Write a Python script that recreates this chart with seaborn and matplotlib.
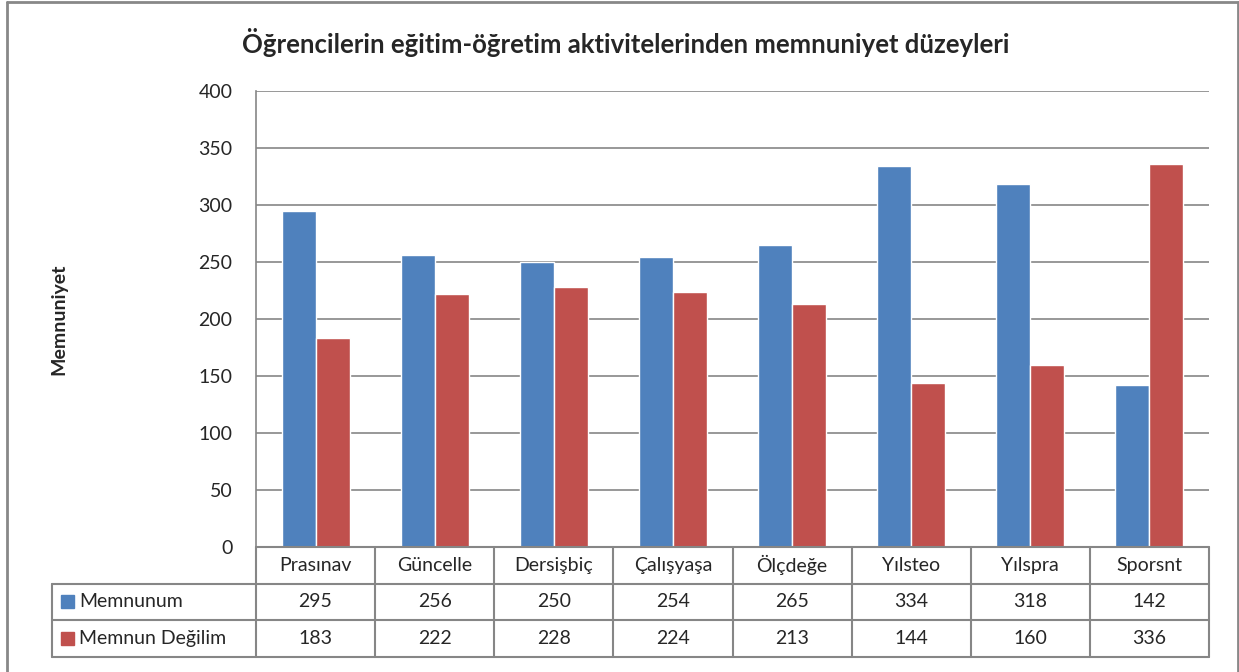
import pandas as pd
import matplotlib.pyplot as plt
import seaborn as sns
from matplotlib.lines import Line2D
from matplotlib.patches import Rectangle

# Veriler
kategoriler = ['Prasınav', 'Güncelle', 'Dersişbiç', 'Çalışyaşa', 'Ölçdeğe', 'Yılsteo', 'Yılspra', 'Sporsnt']
memnunum = [295, 256, 250, 254, 265, 334, 318, 142]
memnun_degilim = [183, 222, 228, 224, 213, 144, 160, 336]
seriler = ['Memnunum', 'Memnun Değilim']
renkler = ['#4F81BD', '#C0504D']
yticks = [0, 50, 100, 150, 200, 250, 300, 350, 400]

data = pd.DataFrame({
    'Kategori': kategoriler * 2,
    'Seri': [seriler[0]] * len(kategoriler) + [seriler[1]] * len(kategoriler),
    'Deger': memnunum + memnun_degilim,
})

sns.set_style('white')
plt.rcParams['font.family'] = ['Lato', 'DejaVu Sans']
fs = 14

fig = plt.figure(figsize=(12.39, 6.72), dpi=100)
ax = fig.add_axes([256 / 1239, 1 - 547 / 672, 953 / 1239, 456 / 672])

sns.barplot(data=data, x='Kategori', y='Deger', hue='Seri', palette=renkler,
            width=0.57, gap=0, saturation=1, ax=ax, legend=False)

ax.set_ylim(0, 400)
ax.set_xlim(-0.5, len(kategoriler) - 0.5)
ax.set_yticks(yticks)
ax.set_yticklabels([str(v) for v in yticks], fontsize=fs)
ax.tick_params(axis='y', length=0, pad=17)
ax.set_xticks([])
ax.set_xlabel('')
ax.set_ylabel('Memnuniyet', fontsize=fs, fontweight='bold')
ax.yaxis.set_label_coords((67 - 256) / 953, 0.5)
ax.yaxis.grid(True, color='#868686', linewidth=1.2)
ax.set_axisbelow(True)
for s in ['top', 'right', 'bottom']:
    ax.spines[s].set_visible(False)
ax.spines['left'].set_color('#868686')
ax.spines['left'].set_linewidth(1.2)

fig.suptitle('Öğrencilerin eğitim-öğretim aktivitelerinden memnuniyet düzeyleri',
             x=0.505, y=0.958, fontsize=18.5, fontweight='bold')

# Veri tablosu
n = len(kategoriler)
r = 36.5 / 456
sol = (52 - 256) / 953
tc = '#868686'
kw = dict(transform=ax.transAxes, color=tc, linewidth=1.5, clip_on=False)
# yatay çizgiler
ax.add_line(Line2D([0, 1], [0, 0], **kw))
ax.add_line(Line2D([sol, 1], [-r, -r], **kw))
ax.add_line(Line2D([sol, 1], [-2 * r, -2 * r], **kw))
ax.add_line(Line2D([sol, 1], [-3 * r, -3 * r], **kw))
# dikey çizgiler
for i in range(n + 1):
    ax.add_line(Line2D([i / n, i / n], [0, -3 * r], **kw))
ax.add_line(Line2D([sol, sol], [-r, -3 * r], **kw))

for i, k in enumerate(kategoriler):
    xc = (i + 0.5) / n
    ax.text(xc, -0.5 * r, k, transform=ax.transAxes, ha='center', va='center', fontsize=fs)
    ax.text(xc, -1.5 * r, str(memnunum[i]), transform=ax.transAxes, ha='center', va='center', fontsize=fs)
    ax.text(xc, -2.5 * r, str(memnun_degilim[i]), transform=ax.transAxes, ha='center', va='center', fontsize=fs)

kare = 13 / 953
for j, (s, c) in enumerate(zip(seriler, renkler)):
    yc = -(1.5 + j) * r
    ax.add_patch(Rectangle((sol + 9 / 953, yc - 6.5 / 456), kare, 13 / 456,
                           transform=ax.transAxes, color=c, clip_on=False))
    ax.text(sol + 27 / 953, yc, s, transform=ax.transAxes, ha='left', va='center', fontsize=fs)

# dış çerçeve
fc = '#888888'
fig.add_artist(Line2D([7 / 1239, 7 / 1239], [0, 1 - 2 / 672], transform=fig.transFigure, color=fc, linewidth=2))
fig.add_artist(Line2D([7 / 1239, 1238 / 1239], [1 - 2 / 672, 1 - 2 / 672], transform=fig.transFigure, color=fc, linewidth=2))
fig.add_artist(Line2D([1238 / 1239, 1238 / 1239], [0, 1 - 2 / 672], transform=fig.transFigure, color=fc, linewidth=2))

fig.savefig('out.png', dpi=100)
